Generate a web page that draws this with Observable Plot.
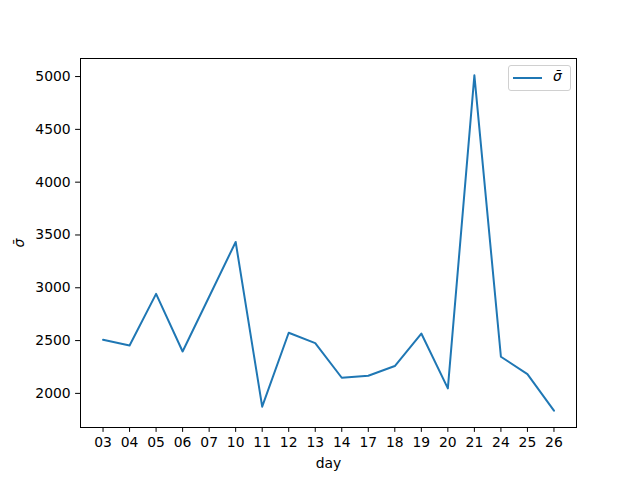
<!DOCTYPE html>
<html>
<head>
<meta charset="utf-8">
<script src="https://cdn.jsdelivr.net/npm/d3@7"></script>
<script src="https://cdn.jsdelivr.net/npm/@observablehq/plot@0.6"></script>
<style>
  html, body { margin: 0; padding: 0; background: white; }
  #wrap { position: relative; width: 640px; height: 480px; }
  #legend {
    position: absolute; left: 508px; top: 65px; width: 61px; height: 24px;
    border: 1px solid #d0d0d0; border-radius: 3px; background: rgba(255,255,255,0.8);
    font-family: "DejaVu Sans", sans-serif; font-size: 13.9px; color: black;
  }
  #legend .sw { position: absolute; left: 4px; top: 10.5px; width: 29px; height: 2px; background: #1f77b4; }
  #legend .lb { position: absolute; left: 44px; top: 2px; font-style: italic; }
</style>
</head>
<body>
<div id="wrap"></div>
<script>
const days = ["03","04","05","06","07","10","11","12","13","14","17","18","19","20","21","24","25","26"];
const sigma = [2507,2454,2942,2397,2915,3434,1874,2574,2476,2148,2167,2259,2567,2047,5012,2347,2183,1836];
const yTicks = [2000,2500,3000,3500,4000,4500,5000];
const seriesLabel = "σ̄";

const data = days.map((d, i) => ({day: d, v: sigma[i]}));

const chart = Plot.plot({
  width: 640, height: 480,
  marginLeft: 80, marginRight: 64, marginTop: 58, marginBottom: 53,
  style: {fontFamily: "DejaVu Sans, sans-serif", fontSize: "13.9px", color: "black", background: "white"},
  x: {type: "point", domain: days, padding: 0.85, round: false},
  y: {domain: [1677, 5171]},
  marks: [
    Plot.line(data, {x: "day", y: "v", stroke: "#1f77b4", strokeWidth: 2}),
    Plot.frame({stroke: "black", strokeWidth: 1}),
    Plot.axisX({tickSize: 4.9, tickPadding: 4.9, label: "day", labelAnchor: "center", labelArrow: "none", labelOffset: 40}),
    Plot.axisY({ticks: yTicks, tickFormat: d3.format("d"), tickSize: 4.9, tickPadding: 4.9, label: seriesLabel, labelAnchor: "center", labelArrow: "none", labelOffset: 66})
  ]
});
const wrap = document.getElementById("wrap");
wrap.appendChild(chart);
const yl = chart.querySelector('[aria-label="y-axis label"] text');
if (yl) yl.style.fontStyle = "italic";

const legend = document.createElement("div");
legend.id = "legend";
legend.innerHTML = '<div class="sw"></div><div class="lb"></div>';
legend.querySelector(".lb").textContent = seriesLabel;
wrap.appendChild(legend);
</script>
</body>
</html>
